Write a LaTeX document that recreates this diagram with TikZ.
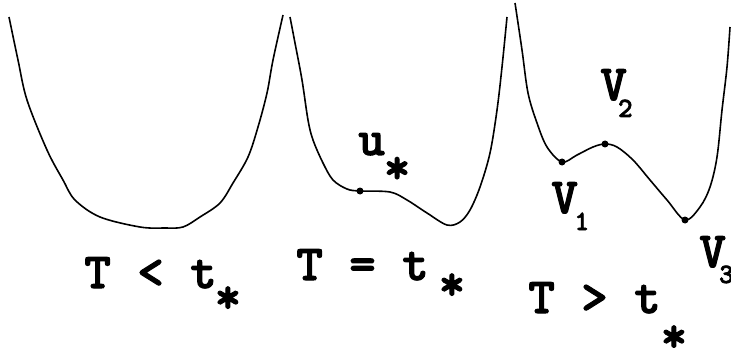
\documentclass[tikz,border=0pt]{standalone}
\usepackage{fontspec}
\setmonofont{lmmonolt10-bold.otf}[FakeBold=2]
\begin{document}
\begin{tikzpicture}[x=0.5pt,y=-0.5pt,
    lbl/.style={font=\ttfamily\fontsize{25.2}{28}\selectfont,inner sep=0pt,anchor=base west},
    dot/.style={circle,fill=black,inner sep=0pt,minimum size=3.5pt},
    curve/.style={line width=0.8pt,smooth,tension=0.55}]
    \useasboundingbox (0,0) rectangle (731,347);
    \newcommand{\subsc}[1]{\raisebox{-8.5pt}{\fontsize{14}{16}\selectfont #1}}

    % Các điểm đánh dấu
    \node[dot] (u) at (360,191) {};
    \node[dot] (v1) at (562,162) {};
    \node[dot] (v2) at (605,144) {};
    \node[dot] (v3) at (685,220) {};

    % Đường cong T < t
    \draw[curve] plot coordinates {(9,17) (18,60) (27,100) (47,150) (63,180) (75,200)
        (100,217) (140,227) (165,228) (183,227) (200,217) (220,203) (233,183)
        (248,157) (258,127) (267,93) (273,60) (283,15)};
    % Đường cong T = t
    \draw[curve] plot coordinates {(290,17) (295,43) (302,80) (308,120) (313,140)
        (323,163) (333,180) (347,189) (u.center) (390,192) (407,200) (427,213)
        (447,225) (460,222) (470,210) (480,187) (490,153) (497,110) (502,67) (507,17)};
    % Đường cong T > t
    \draw[curve] plot coordinates {(515,3) (522,50) (528,93) (537,123) (547,147)
        (v1.center) (577,155) (593,147) (v2.center) (617,147) (633,160) (650,180)
        (667,200) (v3.center) (700,207) (710,187) (717,157) (722,110) (727,67) (730,27)};

    % Nhãn các điểm
    \node[lbl] (ulbl) at (358,155) {u\hspace{-0.5pt}\raisebox{-14.25pt}{*}};
    \node[lbl] (v1lbl) at (551,213) {V\hspace{-1.7pt}\subsc{1}};
    \node[lbl] (v2lbl) at (600,100) {V\hspace{-4.45pt}\subsc{2}};
    \node[lbl] (v3lbl) at (699,267) {V\hspace{-3.45pt}\raisebox{0.5pt}{\subsc{3}}};

    % Nhãn dưới các đường cong
    \node[lbl] (less) at (84,288) {T < t\hspace{-1pt}\raisebox{-12.5pt}{*}};
    \node[lbl] (equal) at (296,280) {T = t\hspace{5pt}\raisebox{-10pt}{*}};
    \node[lbl] (greater) at (528,313) {T > t\raisebox{-19.5pt}{*}};
\end{tikzpicture}
\end{document}
